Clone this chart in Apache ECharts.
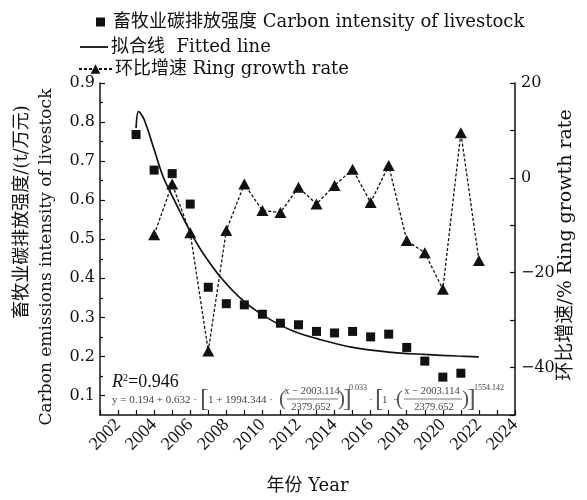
<!DOCTYPE html>
<html>
<head>
<meta charset="utf-8">
<script src="https://cdn.jsdelivr.net/npm/echarts@6/dist/echarts.min.js"></script>
<style>
  html, body { margin: 0; padding: 0; background: #fff; }
  #chart { width: 587px; height: 500px; }
</style>
</head>
<body>
<div id="chart"></div>
<script>
// Livestock carbon intensity (t per 10k yuan), 2003-2021
const years = [2003, 2004, 2005, 2006, 2007, 2008, 2009, 2010, 2011, 2012,
               2013, 2014, 2015, 2016, 2017, 2018, 2019, 2020, 2021];
const intensity = [0.768, 0.677, 0.668, 0.590, 0.377, 0.335, 0.332, 0.308, 0.285, 0.281,
                   0.264, 0.260, 0.264, 0.250, 0.257, 0.223, 0.188, 0.147, 0.157];

// Year-on-year (ring) growth rate, %
const rateYears = [2004, 2005, 2006, 2007, 2008, 2009, 2010, 2011, 2012, 2013,
                   2014, 2015, 2016, 2017, 2018, 2019, 2020, 2021, 2022];
const rate = [-12.0, -1.3, -11.6, -36.5, -11.1, -1.3, -6.9, -7.3, -2.0, -5.5,
              -1.6, 1.8, -5.2, 2.6, -13.2, -15.8, -23.5, 9.5, -17.4];

// Fitted curve samples
const fitX = [2003.0, 2003.14, 2003.45, 2004.0, 2004.5, 2005.0, 2006.0, 2006.6, 2007.7,
              2009.0, 2010.3, 2011.7, 2013.3, 2015.0, 2017.0, 2019.0, 2020.8, 2022.0];
const fitY = [0.785, 0.827, 0.806, 0.730, 0.660, 0.611, 0.520, 0.472, 0.402,
              0.340, 0.298, 0.265, 0.242, 0.223, 0.211, 0.205, 0.201, 0.199];

// Axis ticks and labels
const xLabelYears = [2002, 2004, 2006, 2008, 2010, 2012, 2014, 2016, 2018, 2020, 2022, 2024];
const leftTicks = [0.1, 0.2, 0.3, 0.4, 0.5, 0.6, 0.7, 0.8, 0.9];
const leftMinorTicks = [0.15, 0.25, 0.35, 0.45, 0.55, 0.65, 0.75, 0.85];
const rightLabels = [20, 0, -20, -40];

const nameScatter = '畜牧业碳排放强度 Carbon intensity of livestock';
const nameFit = '拟合线  Fitted line';
const nameRate = '环比增速 Ring growth rate';

const serif = "'DejaVu Serif', 'Noto Sans CJK SC', serif";
const times = "'Liberation Serif', 'Noto Sans CJK SC', serif";
const ink = '#111';

const chart = echarts.init(document.getElementById('chart'), null, { renderer: 'canvas' });

const fmlFont = 11;
const fml = (text, x, y, size, extra) => Object.assign({
  type: 'text', x: x, y: y, silent: true,
  style: Object.assign({ text: text, fontFamily: times, fontSize: size || fmlFont,
    fill: '#444', align: 'left', verticalAlign: 'middle' }, extra || {})
});
const bar = (x1, x2, y) => ({
  type: 'line', silent: true,
  shape: { x1: x1, y1: y, x2: x2, y2: y },
  style: { stroke: '#555', lineWidth: 0.8 }
});

const option = {
  animation: false,
  backgroundColor: '#fff',
  grid: { left: 100, right: 72, top: 83, bottom: 83, containLabel: false },
  legend: [
    { data: [nameScatter], left: 91, top: 8, itemWidth: 9, itemHeight: 9,
      textStyle: { fontFamily: serif, fontSize: 18, color: ink, padding: [0, 0, 0, 3] } },
    { data: [{ name: nameFit, icon: 'rect' }], left: 75, top: 33, itemWidth: 28, itemHeight: 1.8,
      textStyle: { fontFamily: serif, fontSize: 18, color: ink, padding: [0, 0, 0, -2] } },
    { data: [nameRate], left: 73, top: 55, itemWidth: 33, itemHeight: 12,
      textStyle: { fontFamily: serif, fontSize: 18, color: ink, padding: [0, 0, 0, -2] } }
  ],
  xAxis: {
    type: 'value', min: 2001, max: 2024, interval: 1,
    axisLine: { show: true, onZero: false, lineStyle: { color: ink, width: 1.5 } },
    axisTick: { show: true, inside: true, length: 5, lineStyle: { color: ink, width: 1.2 } },
    axisLabel: {
      customValues: xLabelYears, rotate: 45, margin: 7,
      fontFamily: times, fontSize: 18, color: ink,
      formatter: v => String(v)
    },
    splitLine: { show: false },
    name: '年份 Year', nameLocation: 'middle', nameGap: 62,
    nameTextStyle: { fontFamily: serif, fontSize: 18, color: ink }
  },
  yAxis: [
    {
      type: 'value', position: 'left', min: 0.05, max: 0.9,
      axisLine: { show: true, onZero: false, lineStyle: { color: ink, width: 1.5 } },
      axisTick: { show: true, inside: true, length: 5, customValues: leftTicks,
                  lineStyle: { color: ink, width: 1.2 } },
      axisLabel: { customValues: leftTicks, margin: 5, fontFamily: serif, fontSize: 16, color: ink,
                   formatter: v => v.toFixed(1) },
      splitLine: { show: false }
    },
    {
      type: 'value', position: 'right', min: -50, max: 20, interval: 10,
      axisLine: { show: true, onZero: false, lineStyle: { color: ink, width: 1.5 } },
      axisTick: { show: true, inside: true, length: 5, lineStyle: { color: ink, width: 1.2 } },
      axisLabel: { customValues: rightLabels, margin: 6, fontFamily: serif, fontSize: 16, color: ink,
                   formatter: v => (v < 0 ? '\u2212' + Math.abs(v) : String(v)) },
      splitLine: { show: false }
    },
    {
      // minor ticks on the left axis
      type: 'value', position: 'left', min: 0.05, max: 0.9,
      axisLine: { show: false, onZero: false },
      axisTick: { show: true, inside: true, length: 3, customValues: leftMinorTicks,
                  lineStyle: { color: ink, width: 1.2 } },
      axisLabel: { show: false },
      splitLine: { show: false }
    }
  ],
  series: [
    {
      name: nameScatter, type: 'scatter', yAxisIndex: 0,
      symbol: 'rect', symbolSize: 9,
      itemStyle: { color: ink, opacity: 1 },
      data: years.map((y, i) => [y, intensity[i]]),
      z: 4
    },
    {
      name: nameFit, type: 'line', yAxisIndex: 0,
      symbol: 'none', showSymbol: false, smooth: 0.35,
      lineStyle: { color: ink, width: 1.7 },
      itemStyle: { color: ink },
      data: fitX.map((x, i) => [x, fitY[i]]),
      z: 3
    },
    {
      name: nameRate, type: 'line', yAxisIndex: 1,
      symbol: 'triangle', symbolSize: [12, 11], showAllSymbol: true,
      lineStyle: { color: ink, width: 1.3, type: [3, 2] },
      itemStyle: { color: ink, opacity: 1 },
      data: rateYears.map((x, i) => [x, rate[i]]),
      z: 5
    }
  ],
  graphic: [
    // left axis title (two lines)
    { type: 'text', x: 22, y: 212, rotation: Math.PI / 2, silent: true,
      style: { text: '畜牧业碳排放强度/(t/万元)', fontFamily: serif, fontSize: 18, fill: ink,
               align: 'center', verticalAlign: 'middle' } },
    { type: 'text', x: 47, y: 257, rotation: Math.PI / 2, silent: true,
      style: { text: 'Carbon emissions intensity of livestock', fontFamily: serif, fontSize: 17, fill: ink,
               align: 'center', verticalAlign: 'middle' } },
    // right axis title
    { type: 'text', x: 566, y: 245, rotation: Math.PI / 2, silent: true,
      style: { text: '环比增速/% Ring growth rate', fontFamily: serif, fontSize: 19, fill: ink,
               align: 'center', verticalAlign: 'middle' } },
    // goodness of fit
    { type: 'text', x: 112, y: 382, silent: true,
      style: { text: '{i|R}{s|2}=0.946', fontFamily: times, fontSize: 18, fill: ink,
               align: 'left', verticalAlign: 'middle',
               rich: { i: { fontStyle: 'italic', fontFamily: times, fontSize: 18, fill: ink },
                       s: { fontFamily: times, fontSize: 10, verticalAlign: 'top', fill: ink, padding: [0, 0, 8, 0] } } } },
    // fitted equation
    fml('y = 0.194 + 0.632 ·', 112, 400, fmlFont),
    fml('[', 200, 399, 26, { fill: '#555' }),
    fml('1 + 1994.344 ·', 208, 400, fmlFont),
    fml('(', 279, 399, 21, { fill: '#555' }),
    fml('x \u2212 2003.114', 312, 391, 10.5, { align: 'center' }),
    bar(287, 338, 399),
    fml('2379.652', 311, 407, 10.5, { align: 'center' }),
    fml(')', 338, 399, 21, { fill: '#555' }),
    fml(']', 343, 399, 26, { fill: '#555' }),
    fml('0.033', 349, 388, 8),
    fml('·', 369, 400, fmlFont),
    fml('[', 375, 399, 26, { fill: '#555' }),
    fml('1  \u2212', 382, 400, fmlFont),
    fml('(', 396, 399, 21, { fill: '#555' }),
    fml('x \u2212 2003.114', 432, 391, 10.5, { align: 'center' }),
    bar(404, 462, 399),
    fml('2379.652', 434, 407, 10.5, { align: 'center' }),
    fml(')', 462, 399, 21, { fill: '#555' }),
    fml(']', 467, 399, 26, { fill: '#555' }),
    fml('1554.142', 474, 388, 8)
  ]
};

chart.setOption(option);
</script>
</body>
</html>
